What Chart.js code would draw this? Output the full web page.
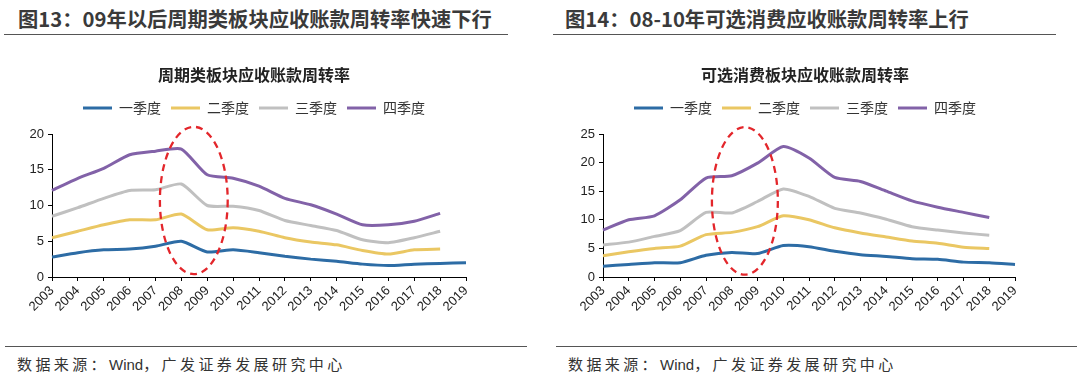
<!DOCTYPE html>
<html lang="zh">
<head>
<meta charset="UTF-8">
<title>应收账款周转率</title>
<script src="https://cdn.jsdelivr.net/npm/chart.js"></script>
<style>
  body { margin: 0; width: 1080px; height: 376px; background: #fff; position: relative; overflow: hidden;
         font-family: "Noto Sans CJK SC", "Noto Sans", sans-serif; color: #333; }
  .head { position: absolute; top: 3px; font-size: 20.3px; font-weight: bold; color: #3a3a3a; white-space: nowrap; }
  .rule { position: absolute; height: 1px; background: #555; }
  .src { position: absolute; top: 353px; font-size: 15px; line-height: 22px; letter-spacing: 3.4px; color: #333; white-space: nowrap; }
  .src span { letter-spacing: 0; font-family: "Liberation Sans", Arial, sans-serif; }
  canvas { position: absolute; top: 40px; }
</style>
</head>
<body>
<div class="head" style="left:18px">图13：09年以后周期类板块应收账款周转率快速下行</div>
<div class="rule" style="left:4px; width:504px; top:34px"></div>
<canvas id="cyc" width="508" height="290" style="left:0"></canvas>
<div class="rule" style="left:5px; width:522px; top:346px"></div>
<div class="src" style="left:17px">数据来源：<span>Wind</span>，广发证券发展研究中心</div>

<div class="head" style="left:565px">图14：08-10年可选消费应收账款周转率上行</div>
<div class="rule" style="left:553px; width:503px; top:34px"></div>
<canvas id="opt" width="510" height="290" style="left:550px"></canvas>
<div class="rule" style="left:556px; width:521px; top:346px"></div>
<div class="src" style="left:568px">数据来源：<span>Wind</span>，广发证券发展研究中心</div>

<script>
// 年份
const years = ['2003','2004','2005','2006','2007','2008','2009','2010','2011',
               '2012','2013','2014','2015','2016','2017','2018','2019'];
const quarterNames = ['一季度', '二季度', '三季度', '四季度'];

// 周期类板块
const cycQ1 = [2.8, 3.4, 3.8, 3.9, 4.3, 5.0, 3.5, 3.8, 3.4, 2.9, 2.5, 2.2, 1.8, 1.6, 1.8, 1.9, 2.0];
const cycQ2 = [5.5, 6.4, 7.3, 8.0, 8.0, 8.8, 6.6, 6.9, 6.4, 5.5, 4.9, 4.5, 3.7, 3.2, 3.8, 3.9, null];
const cycQ3 = [8.5, 9.7, 11.0, 12.1, 12.2, 13.0, 10.0, 9.9, 9.3, 7.9, 7.2, 6.5, 5.2, 4.8, 5.5, 6.4, null];
const cycQ4 = [12.1, 13.8, 15.2, 17.1, 17.6, 17.9, 14.3, 13.8, 12.7, 11.0, 10.1, 8.8, 7.3, 7.3, 7.8, 8.9, null];

// 可选消费板块
const optQ1 = [1.9, 2.2, 2.5, 2.5, 3.8, 4.3, 4.1, 5.5, 5.3, 4.5, 3.9, 3.6, 3.2, 3.1, 2.6, 2.5, 2.2];
const optQ2 = [3.7, 4.4, 5.0, 5.4, 7.4, 7.8, 8.8, 10.7, 10.0, 8.6, 7.7, 7.0, 6.3, 5.9, 5.2, 5.0, null];
const optQ3 = [5.6, 6.1, 7.1, 8.1, 11.3, 11.2, 13.2, 15.4, 14.1, 12.0, 11.2, 10.1, 8.8, 8.2, 7.7, 7.3, null];
const optQ4 = [8.2, 10.0, 10.7, 13.5, 17.3, 17.7, 19.9, 22.8, 20.8, 17.4, 16.7, 15.0, 13.3, 12.2, 11.3, 10.4, null];

// 红色虚线椭圆：[中心类别序号, 中心数值, 横向半径(类别), 纵向半径(数值)]
const cycRing = [5.48, 10.7, 1.31, 10.3];
const optRing = [5.51, 13.3, 1.28, 12.9];

const lineColors = ['#2d6ca5', '#eac763', '#c0c0c0', '#8262a8'];

const ringPlugin = {
  id: 'ring',
  afterDatasetsDraw(chart, args, opts) {
    const e = opts.at;
    if (!e) return;
    const x = chart.scales.x, y = chart.scales.y;
    const cx = x.getPixelForValue(e[0]);
    const cy = y.getPixelForValue(e[1]);
    const rx = x.getPixelForValue(e[0] + e[2]) - cx;
    const ry = y.getPixelForValue(e[1] - e[3]) - cy;
    const ctx = chart.ctx;
    ctx.save();
    ctx.beginPath();
    ctx.ellipse(cx, cy, rx, ry, 0, 0, Math.PI * 2);
    ctx.setLineDash([7, 5]);
    ctx.lineWidth = 2.3;
    ctx.strokeStyle = '#e3262b';
    ctx.stroke();
    ctx.restore();
  }
};

function makeChart(id, title, series, yMax, ring, yWidth, padRight) {
  new Chart(document.getElementById(id), {
    type: 'line',
    data: {
      labels: years,
      datasets: series.map((s, i) => ({
        label: quarterNames[i],
        data: s,
        borderColor: lineColors[i],
        backgroundColor: lineColors[i],
        borderWidth: 3,
        pointRadius: 0,
        tension: 0.2
      }))
    },
    options: {
      responsive: false,
      animation: false,
      plugins: {
        title: {
          display: true,
          text: title,
          color: '#222',
          font: { family: '"Noto Sans CJK SC"', size: 16, weight: 'bold' },
          padding: { top: 25.4, bottom: 6.4 }
        },
        // 空白副标题放在图例下方，当作间距
        subtitle: {
          display: true,
          text: '',
          weight: 500,
          font: { size: 1 },
          padding: { top: 0, bottom: 7.8 }
        },
        legend: {
          labels: {
            usePointStyle: true,
            pointStyle: 'line',
            pointStyleWidth: 29,
            padding: 10,
            color: '#333',
            font: { family: '"Noto Sans CJK SC"', size: 14 }
          }
        },
        tooltip: { enabled: false },
        ring: { at: ring }
      },
      scales: {
        x: {
          afterFit: s => { s.paddingRight = padRight; s.height = 53; },
          grid: { display: true, drawOnChartArea: false, drawTicks: true, tickLength: 4, color: '#000' },
          border: { display: true, color: '#000' },
          ticks: {
            minRotation: 45, maxRotation: 45, autoSkip: false, padding: 2,
            color: '#222', font: { family: '"Liberation Sans", Arial', size: 13 }
          }
        },
        y: {
          min: 0, max: yMax,
          afterFit: s => { s.width = yWidth; },
          grid: { display: true, drawOnChartArea: false, drawTicks: true, tickLength: 4, color: '#000' },
          border: { display: true, color: '#000' },
          ticks: {
            stepSize: 5, padding: 4,
            color: '#222', font: { family: '"Liberation Sans", Arial', size: 13 }
          }
        }
      }
    },
    plugins: [ringPlugin]
  });
}

makeChart('cyc', '周期类板块应收账款周转率', [cycQ1, cycQ2, cycQ3, cycQ4], 20, cycRing, 52, 42);
makeChart('opt', '可选消费板块应收账款周转率', [optQ1, optQ2, optQ3, optQ4], 25, optRing, 53, 45);
</script>
</body>
</html>
